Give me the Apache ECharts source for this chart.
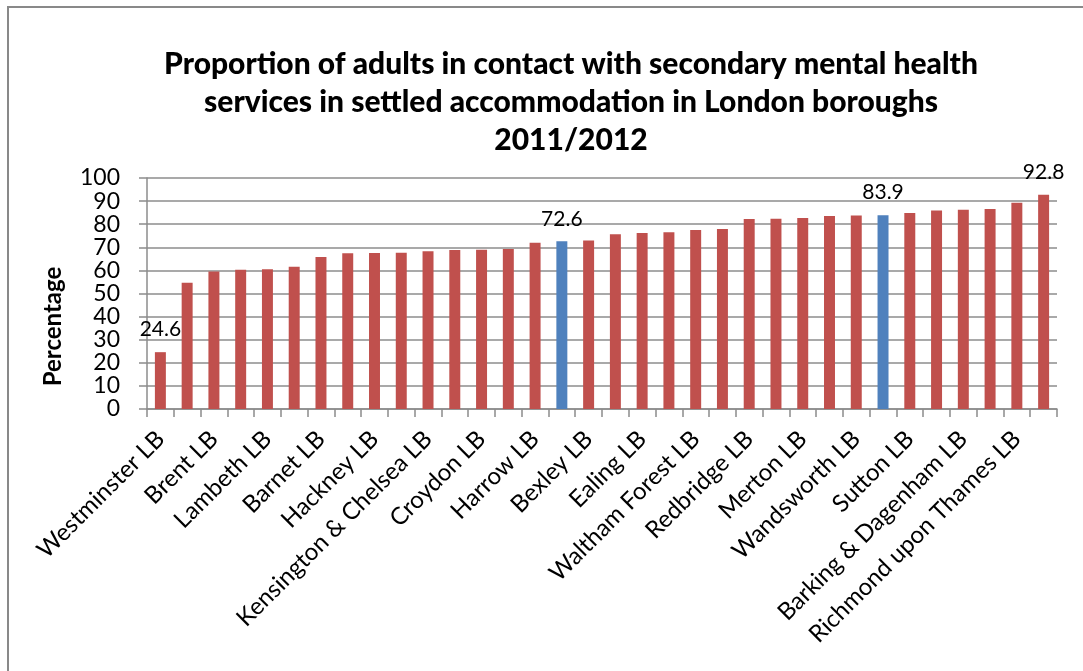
<!DOCTYPE html>
<html>
<head>
<meta charset="utf-8">
<script src="https://cdn.jsdelivr.net/npm/echarts@6/dist/echarts.min.js"></script>
<style>
  html, body { margin: 0; padding: 0; background: #ffffff; }
  #chart { width: 1083px; height: 671px; }
</style>
</head>
<body>
<div id="chart"></div>
<script>
// Boroughs ordered from lowest to highest proportion
const categories = [
  'Westminster LB', 'Newham LB', 'Brent LB', 'Tower Hamlets LB', 'Lambeth LB',
  'Southwark LB', 'Barnet LB', 'Islington LB', 'Hackney LB', 'Camden LB',
  'Kensington & Chelsea LB', 'Haringey LB', 'Croydon LB', 'Lewisham LB', 'Harrow LB',
  'London', 'Bexley LB', 'Greenwich LB', 'Ealing LB', 'Hammersmith & Fulham LB',
  'Waltham Forest LB', 'Enfield LB', 'Redbridge LB', 'Hounslow LB', 'Merton LB',
  'Hillingdon LB', 'Wandsworth LB', 'England', 'Sutton LB', 'Bromley LB',
  'Barking & Dagenham LB', 'Kingston upon Thames LB', 'Richmond upon Thames LB', 'Havering LB'
];

// Percentage of adults in settled accommodation, 2011/2012
const values = [
  24.6, 54.6, 59.5, 60.3, 60.5, 61.6, 65.8, 67.4, 67.5, 67.6,
  68.3, 68.8, 68.9, 69.3, 72.0, 72.6, 72.9, 75.6, 76.2, 76.5,
  77.5, 77.9, 82.3, 82.4, 82.7, 83.6, 83.8, 83.9, 84.9, 85.9,
  86.3, 86.6, 89.3, 92.8
];

// Comparator rows drawn in blue
const highlighted = ['London', 'England'];

// Bars whose value is printed above them
const labelled = ['Westminster LB', 'London', 'England', 'Havering LB'];

const yTicks = { min: 0, max: 100, interval: 10 };

const RED = '#C0504D';
const BLUE = '#4F81BD';
const GRID = '#8C8C8C';
const FONT = 'Lato, "Open Sans", sans-serif';

const chart = echarts.init(document.getElementById('chart'), null, { renderer: 'canvas' });

const seriesData = categories.map((name, i) => ({
  value: values[i],
  itemStyle: { color: highlighted.includes(name) ? BLUE : RED },
  label: { show: labelled.includes(name) }
}));

chart.setOption({
  animation: false,
  backgroundColor: '#ffffff',
  textStyle: { fontFamily: FONT },
  graphic: [{
    type: 'rect',
    shape: { x: 8, y: 7, width: 1200, height: 800 },
    style: { fill: 'none', stroke: '#898989', lineWidth: 2 },
    silent: true,
    z: -1
  }],
  title: {
    text: 'Proportion of adults in contact with secondary mental health\nservices in settled accommodation in London boroughs\n2011/2012',
    left: 566,
    top: 40,
    textAlign: 'center',
    textStyle: {
      fontFamily: FONT,
      fontWeight: 900,
      fontSize: 30,
      lineHeight: 38,
      color: '#000000'
    }
  },
  grid: {
    left: 147,
    right: 26,
    top: 178,
    bottom: 262,
    containLabel: false
  },
  xAxis: {
    type: 'category',
    data: categories,
    axisLine: { show: true, lineStyle: { color: GRID, width: 1.5 } },
    axisTick: { show: true, interval: 0, length: 8, lineStyle: { color: GRID, width: 1.5 } },
    axisLabel: {
      interval: 1,
      rotate: 45,
      margin: 26,
      fontFamily: FONT,
      fontSize: 24,
      color: '#000000'
    },
    splitLine: { show: false }
  },
  yAxis: {
    type: 'value',
    min: yTicks.min,
    max: yTicks.max,
    interval: yTicks.interval,
    name: 'Percentage',
    nameLocation: 'middle',
    nameRotate: 90,
    nameGap: 82,
    nameTextStyle: {
      fontFamily: FONT,
      fontWeight: 'bold',
      fontSize: 24,
      color: '#000000',
      padding: [0, 66, 0, 0]
    },
    axisLine: { show: true, lineStyle: { color: GRID, width: 1.5 } },
    axisTick: { show: true, length: 8, lineStyle: { color: GRID, width: 1.5 } },
    axisLabel: { margin: 27, fontFamily: FONT, fontSize: 23, color: '#000000' },
    splitLine: { show: true, lineStyle: { color: GRID, width: 1.5 } }
  },
  series: [{
    type: 'bar',
    data: seriesData,
    barWidth: '41%',
    label: {
      position: 'top',
      distance: 12,
      fontFamily: FONT,
      fontSize: 21,
      color: '#000000',
      formatter: (p) => p.value.toFixed(1)
    }
  }]
});
</script>
</body>
</html>
